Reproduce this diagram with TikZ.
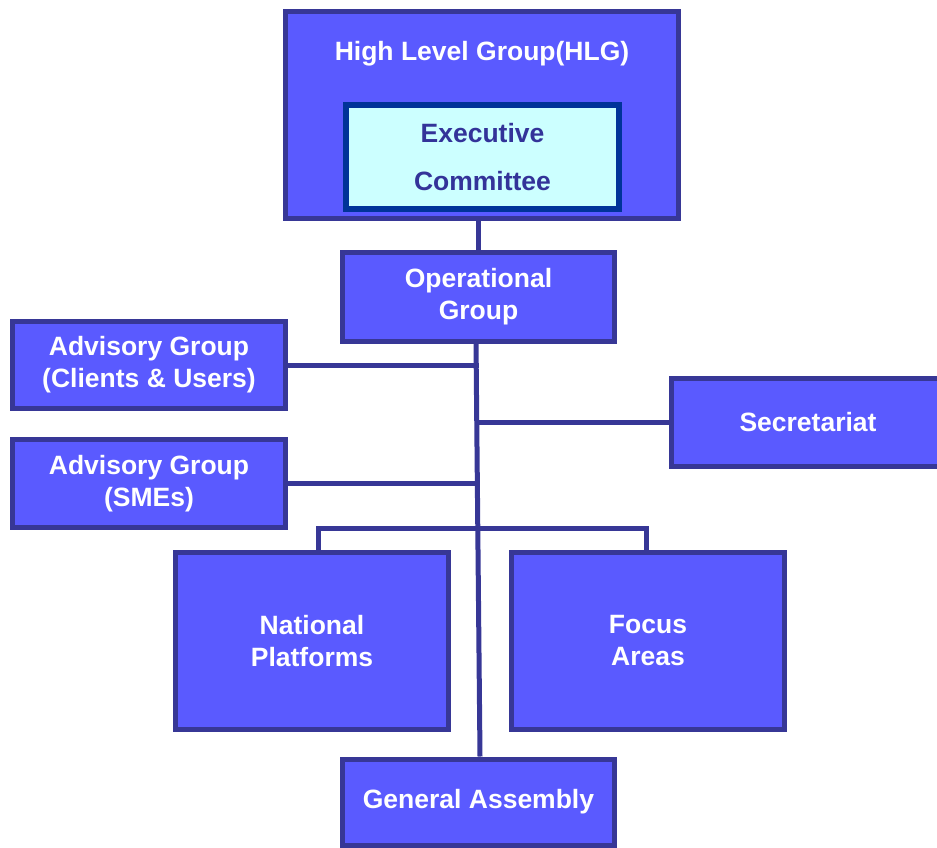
\documentclass[tikz,border=0pt]{standalone}
\usepackage{fontspec}
\setmainfont{Liberation Sans}
\definecolor{boxfill}{RGB}{90,90,255}
\definecolor{boxline}{RGB}{55,55,150}
\definecolor{execfill}{RGB}{204,255,255}
\definecolor{execline}{RGB}{0,51,153}
\definecolor{exectext}{RGB}{51,51,153}
\begin{document}
\begin{tikzpicture}[x=1pt,y=-1pt,
  box/.style={draw=boxline,fill=boxfill,line width=5pt,text=white,align=center,
    inner sep=0pt,font=\fontsize{26.5}{32}\selectfont\bfseries},
  link/.style={draw=boxline,line width=5pt}]

\useasboundingbox (0,0) rectangle (937,848);
\clip (0,0) rectangle (937,848);

\node[box,minimum width=393,minimum height=207] (hlg) at (482,115) {};
\node[text=white,font=\fontsize{26.5}{32}\selectfont\bfseries] (hlgtxt) at (482,54) {High Level Group(HLG)};
\node[box,draw=execline,fill=execfill,text=exectext,line width=6pt,
  font=\fontsize{26.5}{48}\selectfont\bfseries,
  minimum width=273,minimum height=104] (exec) at (482.5,157) {Executive\\Committee};

\node[box,minimum width=272,minimum height=89] (og) at (478.5,297) {Operational\\Group};
\node[box,minimum width=273,minimum height=87] (adv1) at (149,365) {Advisory Group\\(Clients \& Users)};
\node[box,minimum width=273,minimum height=88] (adv2) at (149,483.5) {Advisory Group\\(SMEs)};
\node[box,minimum width=273,minimum height=88] (sec) at (808,422.5) {Secretariat};
\node[box,minimum width=273,minimum height=177] (np) at (312,641) {National\\Platforms};
\node[box,minimum width=273,minimum height=177] (fa) at (648,641) {Focus\\Areas};
\node[box,minimum width=272,minimum height=86] (ga) at (478.5,802) {General Assembly};

% connectors
\begin{scope}[link]
\draw (og.north |- hlg.south) -- (og.north);
\draw ([xshift=-2.5]og.south) -- ([xshift=1.5]ga.north);
\draw (adv1.east) -- (adv1.east -| og.south);
\draw (adv2.east) -- (adv2.east -| og.south);
\draw (sec.west) -- (sec.west -| og.south);
\draw ([xshift=6]np.north) -- ++(0,-22) -| ([xshift=-2]fa.north);
\end{scope}
\end{tikzpicture}
\end{document}
